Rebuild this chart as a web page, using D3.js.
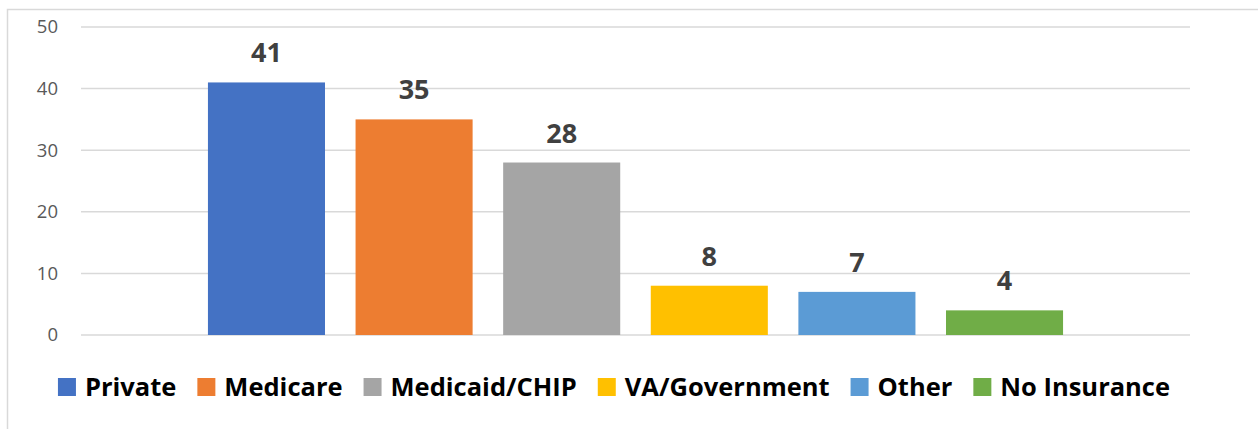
<!DOCTYPE html>
<html>
<head>
<meta charset="utf-8">
<script src="https://cdn.jsdelivr.net/npm/d3@7"></script>
<style>
  body { margin: 0; background: #fff; }
  text { font-family: "Open Sans", "DejaVu Sans", sans-serif; }
</style>
</head>
<body>
<div id="chart"></div>
<script>
var series = ["Private", "Medicare", "Medicaid/CHIP", "VA/Government", "Other", "No Insurance"];
var values = [41, 35, 28, 8, 7, 4];
var colors = ["#4472C4", "#ED7D31", "#A5A5A5", "#FFC000", "#5B9BD5", "#70AD47"];
var yTicks = [0, 10, 20, 30, 40, 50];

var width = 1258, height = 429;
var margin = {top: 27, right: 68, bottom: 94, left: 81},
    w = width - margin.left - margin.right,
    h = height - margin.top - margin.bottom;

var svg = d3.select("#chart").append("svg")
    .attr("width", width)
    .attr("height", height);

// chart area border
svg.append("rect")
    .attr("x", 7.5).attr("y", 9.5)
    .attr("width", width).attr("height", height)
    .attr("fill", "none")
    .attr("stroke", "#d9d9d9")
    .attr("stroke-width", 1.5);

var g = svg.append("g").attr("transform", "translate(" + margin.left + "," + margin.top + ")");

var x = d3.scaleBand().domain(series).range([0, w])
        .paddingInner(0.207).paddingOuter(0.86),
    y = d3.scaleLinear().domain([0, 50]).range([h, 0]);

// gridlines
g.selectAll(".grid")
    .data(yTicks)
    .enter().append("line")
    .attr("x1", 0).attr("x2", w)
    .attr("y1", function(d) { return y(d); })
    .attr("y2", function(d) { return y(d); })
    .attr("stroke", "#d9d9d9")
    .attr("stroke-width", 1.5);

var yAxis = d3.axisLeft(y).tickValues(yTicks).tickSize(0).tickPadding(23);
var ya = g.append("g").call(yAxis);
ya.select(".domain").remove();
ya.selectAll("text")
    .attr("font-size", 18.5)
    .attr("fill", "#595959")
    .style("font-family", "'Open Sans', sans-serif");

// bars
g.selectAll(".bar")
    .data(values)
    .enter().append("rect")
    .attr("x", function(d, i) { return x(series[i]); })
    .attr("y", function(d) { return y(d); })
    .attr("width", x.bandwidth())
    .attr("height", function(d) { return h - y(d); })
    .attr("fill", function(d, i) { return colors[i]; });

// data labels
g.selectAll(".lbl")
    .data(values)
    .enter().append("text")
    .attr("x", function(d, i) { return x(series[i]) + x.bandwidth() / 2; })
    .attr("y", function(d) { return y(d) - 20; })
    .attr("text-anchor", "middle")
    .attr("font-size", 27)
    .attr("font-weight", "bold")
    .attr("fill", "#404040")
    .text(function(d) { return d; });

// legend
var legend = svg.append("g");
var sq = 18, sqGap = 9, itemGap = 21, cursor = 0;
series.forEach(function(s, i) {
    var item = legend.append("g").attr("transform", "translate(" + cursor + ",0)");
    item.append("rect")
        .attr("x", 0).attr("y", -sq)
        .attr("width", sq).attr("height", sq)
        .attr("fill", colors[i]);
    var t = item.append("text")
        .attr("x", sq + sqGap).attr("y", 0)
        .attr("font-size", 25.5)
        .attr("font-weight", "bold")
        .attr("fill", "#000")
        .text(s);
    cursor += sq + sqGap + t.node().getComputedTextLength() + itemGap;
});
var legendW = cursor - itemGap;
legend.attr("transform", "translate(" + (614 - legendW / 2) + ",396)");
</script>
</body>
</html>
